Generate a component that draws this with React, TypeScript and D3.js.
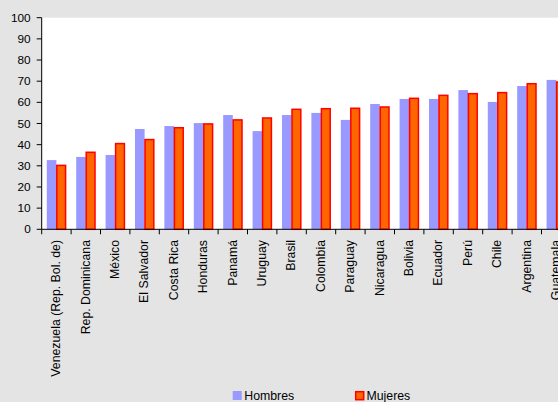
import React from "react";
import * as d3 from "d3";

const categories = [
  "Venezuela (Rep. Bol. de)", "Rep. Dominicana", "México", "El Salvador", "Costa Rica",
  "Honduras", "Panamá", "Uruguay", "Brasil", "Colombia", "Paraguay", "Nicaragua",
  "Bolivia", "Ecuador", "Perú", "Chile", "Argentina", "Guatemala",
];
const hombres = [32.7, 34.2, 35.1, 47.4, 48.8, 50.2, 54.0, 46.4, 54.0, 55.0, 51.7, 59.2, 61.6, 61.6, 65.8, 60.2, 67.7, 70.6];
const mujeres = [30.2, 36.4, 40.5, 42.4, 48.0, 49.8, 51.7, 52.6, 56.7, 57.0, 57.2, 57.8, 61.9, 63.3, 64.1, 64.6, 68.8, 69.6];
const yTicks = [0, 10, 20, 30, 40, 50, 60, 70, 80, 90, 100];
const seriesNames = ["Hombres", "Mujeres"];

const W = 558, H = 402;
const left = 41.7, top = 17.7, bottom = 229.3, step = 29.4;
const font = "Arial, 'Liberation Sans', sans-serif";

export default function App() {
  const x = d3.scaleBand<string>().domain(categories).range([left, left + step * categories.length]).padding(0);
  const inner = d3.scaleBand<string>().domain(seriesNames).range([0, x.bandwidth()]).paddingInner(0).paddingOuter(0.53);
  const y = d3.scaleLinear().domain([0, 100]).range([bottom, top]);
  const bw = inner.bandwidth();
  const boundaries = d3.range(categories.length + 1).map((i) => left + i * x.step());

  return (
    <svg width={W} height={H} style={{ position: "absolute", left: 0, top: 0 }} fontFamily={font}>
      <rect x={0} y={0} width={W} height={H} fill="#e4e4e4" />
      <rect x={left} y={y(100)} width={W - left} height={y(0) - y(100)} fill="#ffffff" />
      {categories.map((c, i) => (
        <g key={c}>
          <rect x={x(c)! + inner("Hombres")!} y={y(hombres[i])} width={bw} height={y(0) - y(hombres[i])} fill="#9999ff" />
          <rect x={x(c)! + inner("Mujeres")! + 0.4} y={y(mujeres[i])} width={bw - 0.8} height={y(0) - y(mujeres[i])} fill="#ff6600" stroke="#ff0000" strokeWidth={1.5} />
        </g>
      ))}
      <line x1={left} x2={left} y1={y(100)} y2={y(0)} stroke="#000" strokeWidth={1} />
      <line x1={left} x2={W} y1={y(0)} y2={y(0)} stroke="#000" strokeWidth={1} />
      {yTicks.map((t) => (
        <g key={t}>
          <line x1={left - 5} x2={left} y1={y(t)} y2={y(t)} stroke="#000" />
          <text x={left - 11} y={y(t)} dy="0.35em" textAnchor="end" fontSize={11.8} fill="#000">{t}</text>
        </g>
      ))}
      {boundaries.map((b, i) => (
        <line key={i} x1={b} x2={b} y1={y(0)} y2={y(0) + 5} stroke="#000" />
      ))}
      {categories.map((c) => {
        const cx = x(c)! + x.bandwidth() / 2 - 0.5;
        const ty = 240;
        return (
          <text key={c} transform={`translate(${cx},${ty}) rotate(-90)`} dy="0.35em" textAnchor="end" fontSize={12.3} fill="#000">{c}</text>
        );
      })}
      <rect x={232.7} y={391} width={9} height={9} fill="#9999ff" />
      <text x={244.3} y={400} fontSize={12.3} fill="#000">Hombres</text>
      <rect x={355.7} y={391.7} width={8} height={8} fill="#ff6600" stroke="#ff0000" strokeWidth={1.5} />
      <text x={366.5} y={400} fontSize={12.3} fill="#000">Mujeres</text>
    </svg>
  );
}
